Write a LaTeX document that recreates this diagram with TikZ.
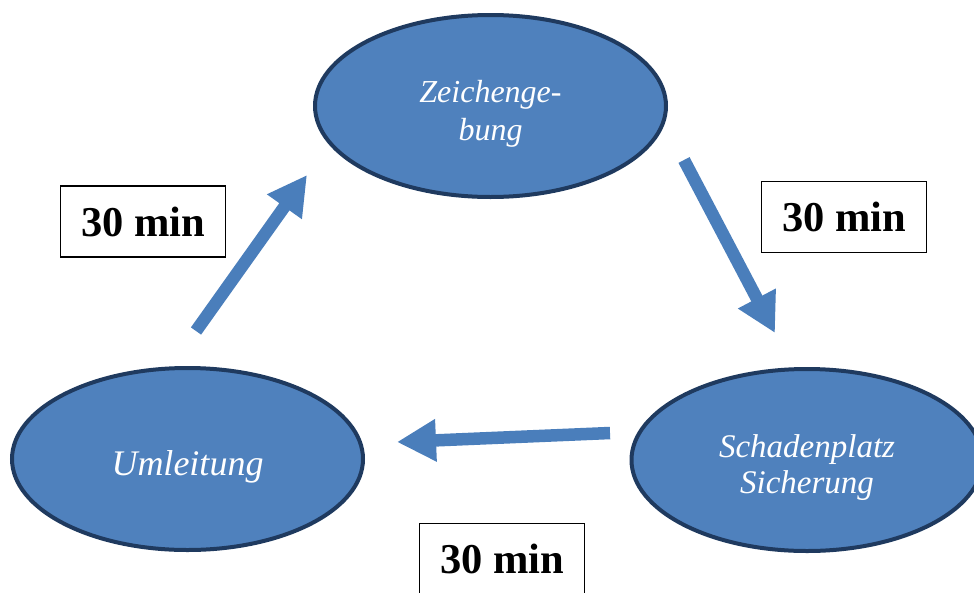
\documentclass[tikz,border=0pt]{standalone}
\usepackage{fontspec}
\setmainfont{Liberation Serif}
\usetikzlibrary{arrows.meta,shapes.geometric}
\definecolor{fillblue}{HTML}{4F81BD}
\definecolor{edgenavy}{HTML}{1F3A5F}
\definecolor{arrowblue}{HTML}{4A7EBB}
\begin{document}
\begin{tikzpicture}[x=1pt,y=-1pt,
  phase/.style={ellipse, draw=edgenavy, line width=4pt, fill=fillblue,
    minimum width=351pt, minimum height=182pt, inner sep=0pt},
  phasetext/.style={text=white, align=center, inner sep=0pt, yshift=-8pt},
  timebox/.style={draw=black, line width=1.5pt, fill=white,
    minimum width=165pt, minimum height=71pt, inner sep=0pt,
    font=\fontsize{42.5}{50}\selectfont\bfseries},
  flow/.style={draw=arrowblue, line width=12.5pt,
    -{Triangle[length=39pt,width=40pt]}}]
\useasboundingbox (0,0) rectangle (974,592);

\node[phase, label={[phasetext, font=\fontsize{32}{38}\selectfont\itshape]center:{Zeichenge-\\bung}}] (zeich) at (490.5,106) {};
\node[phase, label={[phasetext, font=\fontsize{36}{42}\selectfont\itshape]center:{Umleitung}}] (umleit) at (187.5,459) {};
\node[phase, label={[phasetext, font=\fontsize{33}{36}\selectfont\itshape]center:{Schadenplatz\\Sicherung}}] (schaden) at (807,460) {};

\node[timebox] (t1) at (143,221.5) {30 min};
\node[timebox] (t2) at (844,217) {30 min};
\node[timebox] (t3) at (502,559) {30 min};

\coordinate (a1s) at (196,331);
\coordinate (a1e) at (307,175);
\coordinate (a2s) at (684,160);
\coordinate (a2e) at (775,333);
\coordinate (a3s) at (610,433);
\coordinate (a3e) at (397,442);

\draw[flow] (a1s) -- (a1e);
\draw[flow] (a2s) -- (a2e);
\draw[flow] (a3s) -- (a3e);
\end{tikzpicture}
\end{document}
